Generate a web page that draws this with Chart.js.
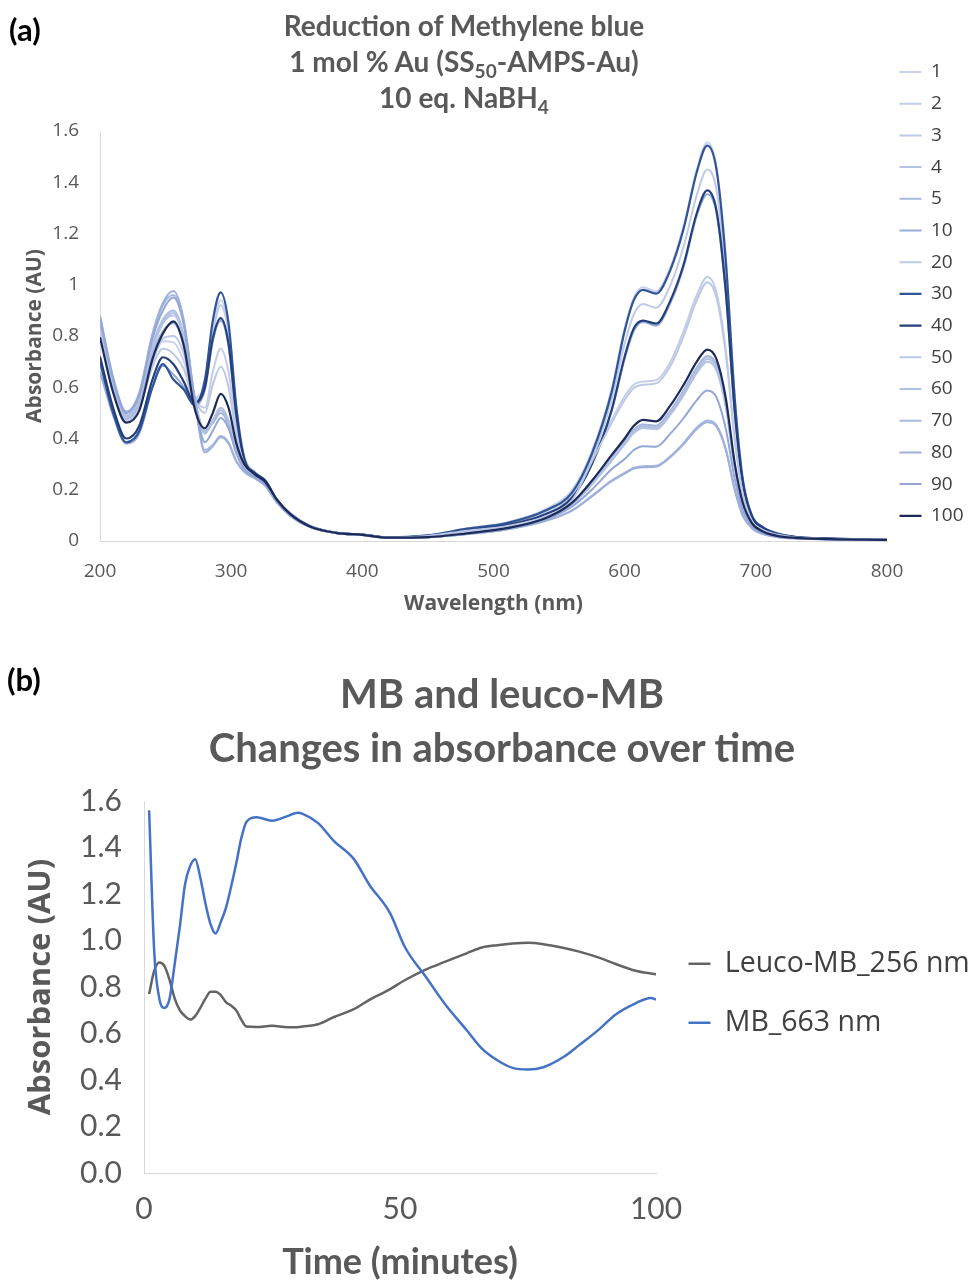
<!DOCTYPE html>
<html>
<head>
<meta charset="utf-8">
<script src="https://cdn.jsdelivr.net/npm/chart.js@4.4.1/dist/chart.umd.min.js"></script>
<style>
  html, body { margin: 0; padding: 0; background: #fff; }
  #page { position: relative; width: 974px; height: 1284px; overflow: hidden; }
  canvas { position: absolute; left: 0; }
  #chartA { top: 0; }
  #chartB { top: 640px; }
  .lbl { position: absolute; font-family: Lato, sans-serif; font-weight: 700; color: #000; }
  .ttl { position: absolute; text-align: center; font-family: Lato, sans-serif; font-weight: 700; color: #595959; white-space: nowrap; }
  .ttl sub { font-size: 0.68em; line-height: 0; vertical-align: -0.3em; }
</style>
</head>
<body>
<div id="page">
  <canvas id="chartA" width="974" height="640"></canvas>
  <canvas id="chartB" width="974" height="644"></canvas>
  <div class="lbl" style="left:9px;top:10px;font-size:31px">(a)</div>
  <div class="ttl" style="left:0;top:7px;width:928px;font-size:28px;line-height:36px">Reduction of Methylene blue<br>1 mol % Au (SS<sub>50</sub>-AMPS-Au)<br>10 eq. NaBH<sub>4</sub></div>
  <div class="lbl" style="left:7px;top:660px;font-size:31px">(b)</div>
  <div class="ttl" style="left:30px;top:666px;width:944px;font-size:40px;line-height:54px">MB and leuco-MB<br>Changes in absorbance over time</div>
</div>
<script>
// (a) UV-vis spectra, wavelength in nm
const wavelength = [200, 210, 220, 230, 240, 248, 256, 264, 272, 280, 286, 292, 298, 304, 310, 318, 326, 335, 345, 360,
  380, 400, 420, 450, 480, 510, 540, 560, 575, 590, 600, 607, 614, 624, 635, 645, 655, 663, 670, 677,
  684, 690, 697, 705, 716, 730, 750, 800];

const a1 = [0.86, 0.62, 0.48, 0.53, 0.70, 0.78, 0.775, 0.70, 0.56, 0.62, 0.83, 0.94, 0.83, 0.52, 0.33, 0.27, 0.235, 0.16, 0.11, 0.06,
  0.033, 0.025, 0.014, 0.022, 0.05, 0.072, 0.125, 0.20, 0.35, 0.59, 0.83, 0.95, 0.99, 0.975, 1.07, 1.23, 1.45, 1.555, 1.46, 1.11,
  0.56, 0.25, 0.10, 0.056, 0.03, 0.016, 0.01, 0.004];
const a2 = [0.85, 0.62, 0.49, 0.55, 0.75, 0.85, 0.88, 0.79, 0.57, 0.52, 0.66, 0.75, 0.66, 0.44, 0.31, 0.26, 0.23, 0.155, 0.10, 0.057,
  0.032, 0.024, 0.013, 0.02, 0.04, 0.06, 0.10, 0.165, 0.32, 0.47, 0.565, 0.61, 0.622, 0.628, 0.70, 0.82, 0.96, 1.03, 0.97, 0.75,
  0.40, 0.19, 0.08, 0.045, 0.025, 0.014, 0.009, 0.004];
const a3 = [0.85, 0.62, 0.49, 0.55, 0.76, 0.86, 0.90, 0.80, 0.56, 0.42, 0.47, 0.52, 0.47, 0.36, 0.29, 0.255, 0.225, 0.155, 0.10, 0.055,
  0.031, 0.023, 0.013, 0.015, 0.03, 0.05, 0.088, 0.145, 0.226, 0.322, 0.388, 0.433, 0.453, 0.448, 0.508, 0.585, 0.675, 0.72, 0.685, 0.54,
  0.292, 0.146, 0.069, 0.037, 0.02, 0.012, 0.008, 0.004];
const a4 = [0.84, 0.61, 0.485, 0.545, 0.75, 0.85, 0.89, 0.79, 0.555, 0.425, 0.465, 0.51, 0.46, 0.355, 0.29, 0.255, 0.225, 0.155, 0.10, 0.055,
  0.031, 0.023, 0.013, 0.015, 0.03, 0.05, 0.086, 0.142, 0.22, 0.313, 0.377, 0.421, 0.441, 0.436, 0.494, 0.569, 0.656, 0.70, 0.666, 0.525,
  0.284, 0.142, 0.067, 0.036, 0.02, 0.012, 0.008, 0.004];
const a5 = [0.83, 0.60, 0.475, 0.535, 0.73, 0.82, 0.85, 0.76, 0.55, 0.43, 0.46, 0.50, 0.455, 0.355, 0.29, 0.255, 0.225, 0.155, 0.10, 0.055,
  0.031, 0.023, 0.013, 0.015, 0.03, 0.05, 0.09, 0.148, 0.228, 0.325, 0.39, 0.435, 0.455, 0.45, 0.51, 0.588, 0.677, 0.722, 0.688, 0.542,
  0.293, 0.146, 0.069, 0.037, 0.02, 0.012, 0.008, 0.004];
const a10 = [0.66, 0.49, 0.38, 0.42, 0.60, 0.684, 0.65, 0.60, 0.53, 0.59, 0.78, 0.86, 0.76, 0.48, 0.31, 0.26, 0.23, 0.155, 0.10, 0.056,
  0.031, 0.024, 0.013, 0.02, 0.042, 0.062, 0.105, 0.17, 0.30, 0.505, 0.71, 0.82, 0.855, 0.84, 0.93, 1.07, 1.27, 1.353, 1.28, 0.97,
  0.50, 0.23, 0.095, 0.052, 0.028, 0.015, 0.01, 0.004];
const a20 = [0.84, 0.60, 0.47, 0.52, 0.68, 0.75, 0.73, 0.67, 0.55, 0.61, 0.81, 0.92, 0.81, 0.51, 0.33, 0.27, 0.235, 0.16, 0.11, 0.06,
  0.033, 0.025, 0.014, 0.021, 0.046, 0.068, 0.115, 0.18, 0.32, 0.55, 0.77, 0.885, 0.925, 0.91, 1.0, 1.15, 1.35, 1.45, 1.37, 1.04,
  0.52, 0.235, 0.095, 0.052, 0.028, 0.015, 0.01, 0.004];
const a30 = [0.70, 0.50, 0.385, 0.43, 0.60, 0.69, 0.63, 0.59, 0.53, 0.63, 0.86, 0.97, 0.85, 0.52, 0.32, 0.265, 0.235, 0.16, 0.105, 0.058,
  0.032, 0.025, 0.014, 0.022, 0.048, 0.07, 0.12, 0.19, 0.34, 0.58, 0.82, 0.94, 0.98, 0.965, 1.06, 1.22, 1.44, 1.543, 1.45, 1.10,
  0.55, 0.24, 0.10, 0.055, 0.03, 0.016, 0.01, 0.004];
const a40 = [0.72, 0.52, 0.40, 0.45, 0.63, 0.717, 0.69, 0.62, 0.54, 0.60, 0.79, 0.87, 0.77, 0.49, 0.32, 0.265, 0.235, 0.16, 0.105, 0.057,
  0.032, 0.025, 0.014, 0.02, 0.042, 0.062, 0.105, 0.17, 0.30, 0.51, 0.72, 0.83, 0.86, 0.848, 0.94, 1.08, 1.28, 1.368, 1.29, 0.98,
  0.50, 0.23, 0.095, 0.052, 0.028, 0.015, 0.01, 0.004];
const a50 = [0.83, 0.60, 0.47, 0.52, 0.70, 0.79, 0.80, 0.73, 0.56, 0.50, 0.61, 0.68, 0.60, 0.41, 0.30, 0.255, 0.225, 0.155, 0.10, 0.056,
  0.032, 0.024, 0.013, 0.02, 0.04, 0.058, 0.097, 0.16, 0.31, 0.46, 0.55, 0.597, 0.61, 0.615, 0.685, 0.80, 0.94, 1.01, 0.95, 0.735,
  0.39, 0.185, 0.078, 0.044, 0.025, 0.014, 0.009, 0.004];
const a60 = [0.85, 0.62, 0.49, 0.555, 0.765, 0.865, 0.90, 0.80, 0.56, 0.42, 0.47, 0.52, 0.47, 0.36, 0.29, 0.255, 0.225, 0.155, 0.10, 0.055,
  0.031, 0.023, 0.013, 0.015, 0.03, 0.05, 0.087, 0.143, 0.223, 0.318, 0.382, 0.427, 0.447, 0.442, 0.50, 0.577, 0.665, 0.71, 0.676, 0.533,
  0.288, 0.144, 0.068, 0.037, 0.02, 0.012, 0.008, 0.004];
const a70 = [0.87, 0.63, 0.50, 0.575, 0.80, 0.92, 0.96, 0.85, 0.56, 0.355, 0.375, 0.41, 0.385, 0.31, 0.27, 0.245, 0.215, 0.15, 0.10, 0.055,
  0.031, 0.023, 0.013, 0.015, 0.027, 0.045, 0.08, 0.12, 0.176, 0.236, 0.266, 0.286, 0.292, 0.294, 0.332, 0.383, 0.443, 0.47, 0.452, 0.362,
  0.20, 0.10, 0.05, 0.028, 0.016, 0.01, 0.007, 0.004];
const a80 = [0.88, 0.64, 0.505, 0.58, 0.81, 0.93, 0.976, 0.86, 0.56, 0.345, 0.37, 0.405, 0.38, 0.31, 0.27, 0.245, 0.215, 0.15, 0.10, 0.055,
  0.031, 0.023, 0.013, 0.015, 0.027, 0.045, 0.079, 0.119, 0.174, 0.233, 0.263, 0.283, 0.288, 0.29, 0.328, 0.378, 0.437, 0.463, 0.446, 0.357,
  0.198, 0.099, 0.05, 0.028, 0.016, 0.01, 0.007, 0.004];
const a90 = [0.87, 0.63, 0.50, 0.57, 0.79, 0.90, 0.95, 0.84, 0.56, 0.385, 0.43, 0.48, 0.44, 0.34, 0.28, 0.25, 0.22, 0.15, 0.10, 0.055,
  0.031, 0.023, 0.013, 0.015, 0.028, 0.047, 0.085, 0.135, 0.20, 0.28, 0.32, 0.355, 0.37, 0.368, 0.42, 0.48, 0.55, 0.587, 0.56, 0.44,
  0.24, 0.12, 0.058, 0.032, 0.018, 0.011, 0.007, 0.004];
const a100 = [0.795, 0.58, 0.462, 0.51, 0.71, 0.81, 0.857, 0.76, 0.52, 0.44, 0.50, 0.574, 0.52, 0.38, 0.30, 0.26, 0.23, 0.16, 0.105, 0.057,
  0.032, 0.024, 0.013, 0.015, 0.03, 0.05, 0.09, 0.15, 0.235, 0.335, 0.40, 0.45, 0.473, 0.467, 0.53, 0.61, 0.70, 0.747, 0.71, 0.56,
  0.30, 0.15, 0.07, 0.038, 0.02, 0.012, 0.008, 0.004];

const seriesNames = ['1', '2', '3', '4', '5', '10', '20', '30', '40', '50', '60', '70', '80', '90', '100'];
const spectra = [a1, a2, a3, a4, a5, a10, a20, a30, a40, a50, a60, a70, a80, a90, a100];

// (b) absorbance against time
const timeMin = [1, 2, 3, 4, 5, 6, 7, 8, 9, 10, 11, 12, 13, 14, 15, 16, 17, 18, 19, 20,
  22, 25, 28, 30, 31, 34, 37, 41, 44, 48, 51, 55, 59, 63, 66, 69, 72, 75, 78, 82,
  85, 89, 92, 96, 99, 100];
const leuco256 = [0.77, 0.87, 0.905, 0.89, 0.83, 0.75, 0.70, 0.675, 0.66, 0.675, 0.71, 0.75, 0.78, 0.78, 0.765, 0.735, 0.72, 0.70, 0.66, 0.63,
  0.628, 0.633, 0.627, 0.627, 0.63, 0.64, 0.67, 0.705, 0.745, 0.79, 0.83, 0.875, 0.91, 0.945, 0.97, 0.98, 0.987, 0.99, 0.984, 0.968,
  0.952, 0.925, 0.90, 0.87, 0.858, 0.855];
const mb663 = [1.56, 0.95, 0.75, 0.71, 0.75, 0.90, 1.06, 1.24, 1.32, 1.35, 1.27, 1.16, 1.07, 1.03, 1.08, 1.14, 1.23, 1.33, 1.44, 1.51,
  1.53, 1.515, 1.535, 1.55, 1.545, 1.505, 1.43, 1.35, 1.24, 1.12, 0.97, 0.845, 0.72, 0.615, 0.535, 0.485, 0.452, 0.445, 0.455, 0.50,
  0.55, 0.62, 0.68, 0.73, 0.753, 0.746];

// styling
const specColors = ['#c9d2ea', '#c3cde8', '#bcc8e6', '#b4c2e3', '#a6b7de', '#98acd9', '#bfcae7', '#2f5597',
  '#24407a', '#bcc8e6', '#b2c0e2', '#a9b8df', '#9eb0db', '#93a7d7', '#1c2b5a'];
const darkOnes = ['30', '40', '100'];
const axisGrey = '#d9d9d9';
const labelGrey = '#595959';

Chart.defaults.font.family = "'Open Sans', sans-serif";

// put the legend block where the picture has it (canvas pixels)
const legendSpot = {
  id: 'legendSpot',
  afterLayout(chart, args, opts) {
    const lg = chart.legend;
    if (!lg || opts.top == null) return;
    const h = lg.bottom - lg.top;
    lg.top = opts.top;
    lg.bottom = opts.top + h;
    lg.left = opts.left;
    lg.right = chart.width;
    lg.width = lg.right - lg.left;
  }
};

function fitRight(chart, pad, want) {
  pad.right += chart.chartArea.right - want;
  chart.update();
}

// ---- chart (a)
const padA = { top: 131, right: 0, bottom: 0, left: 0 };
const chartA = new Chart(document.getElementById('chartA'), {
  type: 'line',
  data: {
    datasets: spectra.map(function(arr, i) {
      return {
        label: seriesNames[i],
        data: wavelength.map(function(w, k) { return { x: w, y: arr[k] }; }),
        borderColor: specColors[i],
        backgroundColor: specColors[i],
        borderWidth: darkOnes.includes(seriesNames[i]) ? 2.2 : 2,
        pointRadius: 0,
        cubicInterpolationMode: 'monotone',
        order: spectra.length - i
      };
    })
  },
  options: {
    responsive: false,
    animation: false,
    layout: { padding: padA },
    plugins: {
      tooltip: { enabled: false },
      legend: {
        position: 'right',
        fullSize: true,
        align: 'start',
        maxWidth: 87,
        labels: {
          usePointStyle: true,
          pointStyle: 'line',
          pointStyleWidth: 22,
          padding: 12.7,
          color: '#404040',
          font: { size: 19 },
          sort: function(a, b) { return a.datasetIndex - b.datasetIndex; }
        }
      },
      legendSpot: { top: 49.8, left: 886.8 }
    },
    scales: {
      x: {
        type: 'linear', min: 200, max: 800,
        grid: { display: false, drawTicks: false },
        border: { color: axisGrey },
        ticks: { stepSize: 100, padding: 19.6, color: labelGrey, font: { size: 19 } },
        title: { display: true, text: 'Wavelength (nm)', color: labelGrey, font: { size: 21, weight: 'bold' }, padding: { top: 0, bottom: 23.4 } },
        afterFit: function(s) { s.height = 99; }
      },
      y: {
        min: 0, max: 1.6,
        grid: { display: false, drawTicks: false },
        border: { color: axisGrey },
        ticks: { stepSize: 0.2, padding: 21, color: labelGrey, font: { size: 19 },
          callback: function(v) { return String(+v.toFixed(1)); } },
        title: { display: true, text: 'Absorbance (AU)', color: labelGrey, font: { size: 21, weight: 'bold' }, padding: { top: 22.4, bottom: 0 } },
        afterFit: function(s) { s.width = 100; }
      }
    }
  },
  plugins: [legendSpot]
});
fitRight(chartA, padA, 887);

// ---- chart (b)
const padB = { top: 161, right: 0, bottom: 0, left: 0 };
const chartB = new Chart(document.getElementById('chartB'), {
  type: 'line',
  data: {
    datasets: [
      {
        label: 'Leuco-MB_256 nm',
        data: timeMin.map(function(t, k) { return { x: t, y: leuco256[k] }; }),
        borderColor: '#646464',
        backgroundColor: '#646464',
        borderWidth: 2.5,
        pointRadius: 0,
        cubicInterpolationMode: 'monotone',
        order: 2
      },
      {
        label: 'MB_663 nm',
        data: timeMin.map(function(t, k) { return { x: t, y: mb663[k] }; }),
        borderColor: '#4472c4',
        backgroundColor: '#4472c4',
        borderWidth: 2.5,
        pointRadius: 0,
        cubicInterpolationMode: 'monotone',
        order: 1
      }
    ]
  },
  options: {
    responsive: false,
    animation: false,
    layout: { padding: padB },
    plugins: {
      tooltip: { enabled: false },
      legend: {
        position: 'right',
        align: 'start',
        maxWidth: 318,
        labels: {
          usePointStyle: true,
          pointStyle: 'line',
          pointStyleWidth: 22,
          padding: 30.5,
          color: '#404040',
          font: { size: 28.5 },
          sort: function(a, b) { return a.datasetIndex - b.datasetIndex; }
        }
      },
      legendSpot: { top: 279, left: 658 }
    },
    scales: {
      x: {
        type: 'linear', min: 0, max: 100,
        grid: { display: false, drawTicks: false },
        border: { color: axisGrey },
        ticks: { stepSize: 50, padding: 18.4, color: labelGrey, font: { family: 'Lato', size: 30 } },
        title: { display: true, text: 'Time (minutes)', color: labelGrey, font: { family: 'Lato', size: 36, weight: 'bold' }, padding: { top: 0, bottom: 0 } },
        afterFit: function(s) { s.height = 111; }
      },
      y: {
        min: 0, max: 1.6,
        grid: { display: false, drawTicks: false },
        border: { color: axisGrey },
        ticks: { stepSize: 0.2, padding: 22, color: labelGrey, font: { family: 'Lato', size: 30 },
          callback: function(v) { return v.toFixed(1); } },
        title: { display: true, text: 'Absorbance (AU)', color: labelGrey, font: { size: 31, weight: 'bold' }, padding: { top: 23, bottom: 0 } },
        afterFit: function(s) { s.width = 144; }
      }
    }
  },
  plugins: [legendSpot]
});
fitRight(chartB, padB, 656);
</script>
</body>
</html>
